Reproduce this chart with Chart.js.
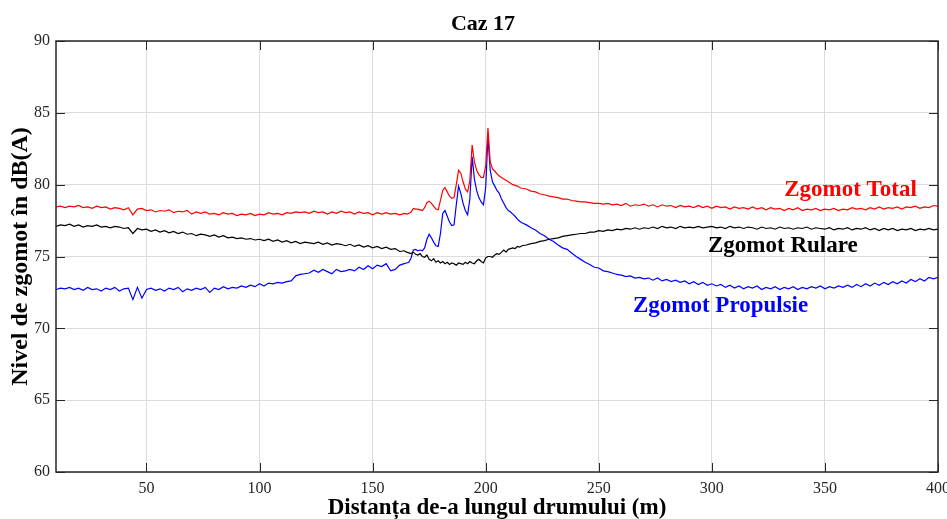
<!DOCTYPE html>
<html><head><meta charset="utf-8">
<script src="https://cdn.jsdelivr.net/npm/chart.js@4"></script>
<style>html,body{margin:0;padding:0;background:#fff;}canvas{display:block;}</style>
</head><body>
<canvas id="c" width="947" height="519"></canvas>
<script>
const distance = [
10,12,14,16,18,20,22,24,26,28,
30,32,34,36,38,40,42,44,46,48,
50,52,54,56,58,60,62,64,66,68,
70,72,74,76,78,80,82,84,86,88,
90,92,94,96,98,100,102,104,106,108,
110,112,114,116,118,120,122,124,126,128,
130,132,134,136,138,140,142,144,146,148,
150,152,154,156,158,160,162,164,
165,166,167,168,169,170,171,172,173,174,
175,176,177,178,179,180,181,182,183,184,
185,186,187,188,189,190,191,192,193,194,
195,196,197,198,199,200,201,202,203,204,
205,206,207,208,209,210,211,212,213,214,
215,
216,218,220,222,224,226,228,230,232,234,
236,238,240,242,244,246,248,250,252,254,
256,258,260,262,264,266,268,270,272,274,
276,278,280,282,284,286,288,290,292,294,
296,298,300,302,304,306,308,310,312,314,
316,318,320,322,324,326,328,330,332,334,
336,338,340,342,344,346,348,350,352,354,
356,358,360,362,364,366,368,370,372,374,
376,378,380,382,384,386,388,390,392,394,
396,398,400];

const zgomotTotal = [
78.45,78.5,78.4,78.5,78.45,78.55,78.4,78.45,78.35,78.5,
78.4,78.45,78.3,78.4,78.35,78.25,78.4,77.9,78.3,78.35,
78.2,78.25,78.1,78.2,78.15,78.25,78.05,78.15,78.1,78.2,
77.95,78.1,78.0,78.1,77.95,78.0,77.9,78.05,77.95,78.0,
77.85,77.95,77.9,78.0,77.85,77.95,77.9,78.05,77.95,78.0,
77.9,78.05,78.0,78.1,78.05,78.1,78.0,78.15,78.05,78.1,
77.95,78.1,78.0,78.15,78.05,78.1,77.95,78.1,78.0,78.05,
77.9,78.05,77.95,78.05,77.95,78.0,77.9,78.0,
77.95,78.0,78.1,78.35,78.3,78.3,78.25,78.2,78.4,78.75,
78.85,78.7,78.5,78.3,78.25,78.9,79.6,79.8,79.5,79.2,
79.05,79.1,80.0,81.0,80.8,80.2,79.7,79.5,80.3,82.75,
81.6,81.0,80.7,80.5,80.5,81.3,83.95,81.6,81.1,80.95,
80.75,80.6,80.5,80.4,80.3,80.2,80.1,80.0,79.95,79.9,
79.8,
79.75,79.7,79.55,79.5,79.35,79.3,79.2,79.15,79.1,79.0,
79.0,78.9,78.85,78.8,78.8,78.75,78.7,78.7,78.65,78.7,
78.6,78.65,78.55,78.7,78.5,78.6,78.55,78.65,78.5,78.6,
78.45,78.6,78.5,78.55,78.4,78.55,78.45,78.5,78.4,78.55,
78.4,78.5,78.35,78.5,78.4,78.45,78.3,78.45,78.35,78.4,
78.3,78.45,78.3,78.4,78.25,78.4,78.3,78.35,78.2,78.35,
78.25,78.4,78.2,78.3,78.25,78.35,78.2,78.3,78.25,78.35,
78.2,78.3,78.25,78.4,78.3,78.35,78.25,78.4,78.3,78.45,
78.3,78.4,78.35,78.45,78.3,78.45,78.4,78.5,78.35,78.45,
78.4,78.55,78.5];

const zgomotRulare = [
77.1,77.2,77.15,77.25,77.1,77.2,77.05,77.15,77.1,77.2,
77.05,77.1,77.0,77.1,77.05,76.95,77.0,76.6,76.95,76.85,
76.9,76.75,76.85,76.7,76.8,76.65,76.75,76.6,76.7,76.55,
76.6,76.45,76.55,76.5,76.4,76.5,76.35,76.45,76.3,76.35,
76.25,76.3,76.2,76.25,76.15,76.2,76.1,76.2,76.05,76.15,
76.0,76.1,75.95,76.05,75.9,76.0,75.95,75.9,76.0,75.85,
75.95,75.8,75.9,75.85,75.75,75.85,75.7,75.8,75.65,75.75,
75.6,75.7,75.55,75.65,75.5,75.55,75.35,75.4,
75.3,75.25,75.2,75.3,75.15,75.1,75.2,75.0,74.95,75.1,
74.8,74.7,74.85,74.6,74.7,74.55,74.65,74.5,74.6,74.45,
74.55,74.5,74.4,74.55,74.5,74.45,74.6,74.5,74.65,74.55,
74.5,74.7,74.8,74.65,74.55,74.9,75.0,75.0,74.95,75.1,
75.2,75.15,75.3,75.45,75.3,75.5,75.55,75.6,75.55,75.7,
75.65,
75.75,75.8,75.9,75.95,76.05,76.1,76.2,76.25,76.3,76.4,
76.45,76.5,76.55,76.6,76.6,76.7,76.7,76.8,76.75,76.85,
76.8,76.9,76.85,76.95,76.9,77.0,76.9,77.0,76.95,77.05,
76.95,77.1,77.0,77.05,76.95,77.1,77.0,77.05,77.0,77.1,
77.0,77.05,77.1,77.0,77.05,76.95,77.1,77.0,77.05,76.95,
77.05,77.0,76.9,77.05,76.95,77.0,76.9,77.05,76.95,77.0,
76.9,77.0,76.95,77.05,76.9,77.0,76.95,76.9,77.0,76.85,
76.95,76.9,77.0,76.85,76.95,76.9,77.0,76.85,76.95,76.8,
76.95,76.85,76.95,76.8,76.9,76.85,76.95,76.8,76.9,76.85,
76.95,76.85,76.9];

const zgomotPropulsie = [
72.7,72.8,72.75,72.85,72.7,72.8,72.65,72.85,72.7,72.75,
72.6,72.8,72.7,72.85,72.6,72.75,72.8,72.0,72.85,72.1,
72.7,72.8,72.65,72.75,72.6,72.8,72.7,72.85,72.55,72.75,
72.65,72.8,72.7,72.85,72.5,72.8,72.7,72.9,72.75,72.85,
72.8,72.95,72.85,73.0,72.9,73.1,72.95,73.15,73.1,73.2,
73.15,73.25,73.3,73.65,73.75,73.8,73.85,74.05,73.9,74.1,
73.95,73.8,74.1,73.95,74.0,74.1,74.0,74.25,74.1,74.35,
74.15,74.4,74.3,74.5,74.0,74.1,74.4,74.5,
74.55,74.6,74.9,75.45,75.5,75.4,75.45,75.4,75.6,76.2,
76.55,76.3,76.0,75.75,75.7,76.6,78.0,78.2,77.8,77.4,
77.15,77.2,78.6,79.9,79.4,78.7,78.2,77.9,79.0,81.95,
80.4,79.6,79.1,78.8,78.6,79.8,83.35,81.0,80.2,79.9,
79.6,79.4,79.0,78.7,78.4,78.2,78.1,77.95,77.8,77.6,
77.45,
77.35,77.2,77.0,76.85,76.6,76.45,76.2,76.05,75.8,75.6,
75.5,75.25,75.0,74.8,74.6,74.45,74.25,74.2,74.0,73.95,
73.85,73.75,73.7,73.6,73.65,73.5,73.55,73.45,73.5,73.35,
73.5,73.3,73.4,73.25,73.35,73.2,73.3,73.1,73.25,73.05,
73.2,73.0,73.1,72.95,73.05,72.85,73.0,72.8,72.95,72.75,
72.9,72.8,72.95,72.7,72.85,72.75,72.9,72.7,72.85,72.75,
72.9,72.7,72.85,72.75,72.9,72.8,72.95,72.75,72.9,72.8,
72.95,72.85,73.0,72.85,73.05,72.9,73.1,72.95,73.15,73.0,
73.2,73.05,73.25,73.1,73.3,73.15,73.4,73.25,73.45,73.3,
73.55,73.45,73.55];

const seriesNames = ['Zgomot Total', 'Zgomot Rulare', 'Zgomot Propulsie'];
const xTicks = [50, 100, 150, 200, 250, 300, 350, 400];
const yTicks = [60, 65, 70, 75, 80, 85, 90];

const SERIF = '"Liberation Serif", "Times New Roman", Times, serif';
const toPts = arr => distance.map((d, i) => ({x: d, y: arr[i]}));

const framePlugin = {
  id: 'frame',
  afterDraw(chart, args, opts) {
    const {ctx, chartArea: a, scales: {x, y}} = chart;
    ctx.save();
    ctx.strokeStyle = '#262626';
    ctx.lineWidth = 1;
    ctx.beginPath();
    x.ticks.forEach(t => {
      const p = Math.round(x.getPixelForValue(t.value)) + 0.5;
      ctx.moveTo(p, a.bottom); ctx.lineTo(p, a.bottom - 9);
      ctx.moveTo(p, a.top); ctx.lineTo(p, a.top + 9);
    });
    y.ticks.forEach(t => {
      const p = Math.round(y.getPixelForValue(t.value)) + 0.5;
      ctx.moveTo(a.left, p); ctx.lineTo(a.left + 9, p);
      ctx.moveTo(a.right, p); ctx.lineTo(a.right - 9, p);
    });
    ctx.stroke();
    ctx.lineWidth = 1.5;
    ctx.strokeRect(a.left, a.top, a.right - a.left, a.bottom - a.top);
    ctx.font = 'bold 23px ' + SERIF;
    ctx.textAlign = 'left';
    ctx.textBaseline = 'alphabetic';
    chart.data.datasets.forEach((ds, i) => {
      const [vx, vy] = opts.anchors[i];
      ctx.fillStyle = ds.borderColor;
      ctx.fillText(ds.label, x.getPixelForValue(vx), y.getPixelForValue(vy));
    });
    ctx.restore();
  }
};

new Chart(document.getElementById('c'), {
  type: 'line',
  data: {
    datasets: [
      {label: seriesNames[0], data: toPts(zgomotTotal), borderColor: '#ff0000'},
      {label: seriesNames[1], data: toPts(zgomotRulare), borderColor: '#000000'},
      {label: seriesNames[2], data: toPts(zgomotPropulsie), borderColor: '#0000ff'}
    ]
  },
  options: {
    responsive: false,
    animation: false,
    datasets: {line: {borderWidth: 1.2, pointRadius: 0, tension: 0, fill: false}},
    layout: {padding: {left: 28, right: 9, top: 0, bottom: 0}},
    plugins: {
      legend: {display: false},
      tooltip: {enabled: false},
      title: {
        display: true, text: 'Caz 17', color: '#000',
        font: {family: SERIF, size: 22, weight: 'bold', lineHeight: 1.2},
        padding: {top: 11.5, bottom: 3.1}
      },
      frame: {anchors: [[332, 79.21], [298.3, 75.33], [265.1, 71.16]]}
    },
    scales: {
      x: {
        type: 'linear', min: 10, max: 400,
        afterBuildTicks: s => { s.ticks = xTicks.map(v => ({value: v})); },
        afterFit: s => { s.height = 47; s.paddingLeft = 0; s.paddingRight = 0; },
        ticks: {color: '#262626', font: {family: SERIF, size: 16}, padding: 7, maxRotation: 0, autoSkip: false},
        grid: {color: '#dcdcdc', lineWidth: 1, drawTicks: false},
        border: {display: false},
        title: {
          display: true, text: 'Distanța de-a lungul drumului (m)', color: '#000',
          font: {family: SERIF, size: 23, weight: 'bold', lineHeight: 0.9},
          padding: {top: 0, bottom: 1}
        }
      },
      y: {
        type: 'linear', min: 60, max: 90,
        afterBuildTicks: s => { s.ticks = yTicks.map(v => ({value: v})); },
        afterFit: s => { s.width = 28; s.paddingTop = 0; s.paddingBottom = 0; },
        ticks: {color: '#262626', font: {family: SERIF, size: 16}, padding: 6},
        grid: {color: '#dcdcdc', lineWidth: 1, drawTicks: false},
        border: {display: false},
        title: {
          display: true, text: 'Nivel de zgomot în dB(A)', color: '#000',
          font: {family: SERIF, size: 24, weight: 'bold', lineHeight: 1.2},
          padding: {top: -21.9, bottom: 0}
        }
      }
    }
  },
  plugins: [framePlugin]
});
</script>
</body></html>
